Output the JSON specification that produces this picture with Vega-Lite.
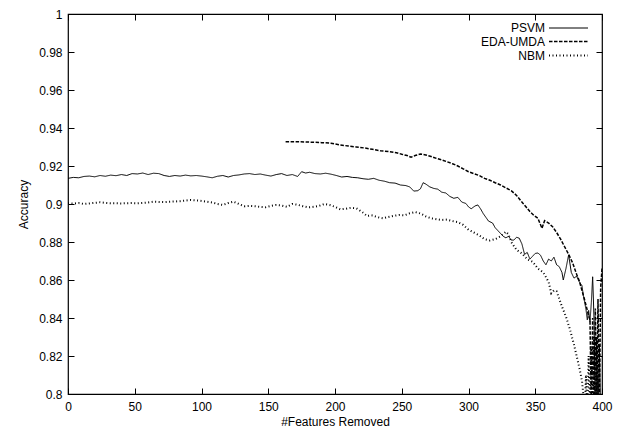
{
  "$schema": "https://vega.github.io/schema/vega-lite/v6.json",
  "width": 534,
  "height": 380,
  "autosize": "none",
  "padding": {"left": 68, "top": 14, "right": 22, "bottom": 36},
  "background": "white",
  "config": {
    "font": "Liberation Sans",
    "view": {"stroke": "black", "strokeWidth": 1.2},
    "axis": {"domain": false, "grid": false, "tickColor": "black", "tickWidth": 1, "labelColor": "black", "titleColor": "black", "labelFont": "Liberation Sans", "titleFont": "Liberation Sans", "labelFontSize": 12, "titleFontSize": 12, "titleFontWeight": "normal"}
  },
  "data": {
    "values": [
      {"s": "PSVM", "x": 0, "y": 0.9135}, {"s": "PSVM", "x": 4, "y": 0.914}, {"s": "PSVM", "x": 8, "y": 0.9138}, {"s": "PSVM", "x": 12, "y": 0.9145}, {"s": "PSVM", "x": 16, "y": 0.9147}, {"s": "PSVM", "x": 20, "y": 0.9143}, {"s": "PSVM", "x": 24, "y": 0.915}, {"s": "PSVM", "x": 28, "y": 0.9146}, {"s": "PSVM", "x": 32, "y": 0.9152}, {"s": "PSVM", "x": 36, "y": 0.9149}, {"s": "PSVM", "x": 40, "y": 0.9155}, {"s": "PSVM", "x": 44, "y": 0.915}, {"s": "PSVM", "x": 48, "y": 0.916}, {"s": "PSVM", "x": 52, "y": 0.9158}, {"s": "PSVM", "x": 56, "y": 0.9163}, {"s": "PSVM", "x": 60, "y": 0.9155}, {"s": "PSVM", "x": 64, "y": 0.9162}, {"s": "PSVM", "x": 68, "y": 0.916}, {"s": "PSVM", "x": 72, "y": 0.915}, {"s": "PSVM", "x": 76, "y": 0.9145}, {"s": "PSVM", "x": 80, "y": 0.915}, {"s": "PSVM", "x": 84, "y": 0.9147}, {"s": "PSVM", "x": 88, "y": 0.9152}, {"s": "PSVM", "x": 92, "y": 0.9148}, {"s": "PSVM", "x": 96, "y": 0.915}, {"s": "PSVM", "x": 100, "y": 0.9147}, {"s": "PSVM", "x": 104, "y": 0.9143}, {"s": "PSVM", "x": 108, "y": 0.9138}, {"s": "PSVM", "x": 112, "y": 0.9146}, {"s": "PSVM", "x": 116, "y": 0.915}, {"s": "PSVM", "x": 120, "y": 0.9142}, {"s": "PSVM", "x": 124, "y": 0.915}, {"s": "PSVM", "x": 128, "y": 0.9153}, {"s": "PSVM", "x": 132, "y": 0.9158}, {"s": "PSVM", "x": 136, "y": 0.916}, {"s": "PSVM", "x": 140, "y": 0.9155}, {"s": "PSVM", "x": 144, "y": 0.9158}, {"s": "PSVM", "x": 148, "y": 0.9152}, {"s": "PSVM", "x": 152, "y": 0.9147}, {"s": "PSVM", "x": 156, "y": 0.9155}, {"s": "PSVM", "x": 160, "y": 0.916}, {"s": "PSVM", "x": 164, "y": 0.915}, {"s": "PSVM", "x": 168, "y": 0.9155}, {"s": "PSVM", "x": 172, "y": 0.9145}, {"s": "PSVM", "x": 175, "y": 0.917}, {"s": "PSVM", "x": 178, "y": 0.9163}, {"s": "PSVM", "x": 181, "y": 0.9167}, {"s": "PSVM", "x": 185, "y": 0.916}, {"s": "PSVM", "x": 189, "y": 0.9158}, {"s": "PSVM", "x": 193, "y": 0.9162}, {"s": "PSVM", "x": 197, "y": 0.9157}, {"s": "PSVM", "x": 201, "y": 0.915}, {"s": "PSVM", "x": 205, "y": 0.9142}, {"s": "PSVM", "x": 209, "y": 0.9145}, {"s": "PSVM", "x": 213, "y": 0.914}, {"s": "PSVM", "x": 217, "y": 0.9138}, {"s": "PSVM", "x": 221, "y": 0.9133}, {"s": "PSVM", "x": 225, "y": 0.913}, {"s": "PSVM", "x": 229, "y": 0.9135}, {"s": "PSVM", "x": 233, "y": 0.9125}, {"s": "PSVM", "x": 237, "y": 0.912}, {"s": "PSVM", "x": 241, "y": 0.9112}, {"s": "PSVM", "x": 245, "y": 0.911}, {"s": "PSVM", "x": 249, "y": 0.91}, {"s": "PSVM", "x": 253, "y": 0.9097}, {"s": "PSVM", "x": 256, "y": 0.909}, {"s": "PSVM", "x": 259, "y": 0.9068}, {"s": "PSVM", "x": 262, "y": 0.907}, {"s": "PSVM", "x": 264, "y": 0.908}, {"s": "PSVM", "x": 266, "y": 0.9112}, {"s": "PSVM", "x": 268, "y": 0.9105}, {"s": "PSVM", "x": 271, "y": 0.909}, {"s": "PSVM", "x": 274, "y": 0.9082}, {"s": "PSVM", "x": 277, "y": 0.9078}, {"s": "PSVM", "x": 280, "y": 0.9062}, {"s": "PSVM", "x": 283, "y": 0.9058}, {"s": "PSVM", "x": 286, "y": 0.904}, {"s": "PSVM", "x": 289, "y": 0.903}, {"s": "PSVM", "x": 292, "y": 0.9035}, {"s": "PSVM", "x": 295, "y": 0.901}, {"s": "PSVM", "x": 298, "y": 0.9003}, {"s": "PSVM", "x": 300, "y": 0.8985}, {"s": "PSVM", "x": 302, "y": 0.8975}, {"s": "PSVM", "x": 305, "y": 0.899}, {"s": "PSVM", "x": 307, "y": 0.8995}, {"s": "PSVM", "x": 309, "y": 0.8975}, {"s": "PSVM", "x": 311, "y": 0.895}, {"s": "PSVM", "x": 313, "y": 0.893}, {"s": "PSVM", "x": 315, "y": 0.891}, {"s": "PSVM", "x": 318, "y": 0.89}, {"s": "PSVM", "x": 320, "y": 0.8875}, {"s": "PSVM", "x": 322, "y": 0.886}, {"s": "PSVM", "x": 324, "y": 0.8845}, {"s": "PSVM", "x": 326, "y": 0.883}, {"s": "PSVM", "x": 328, "y": 0.8822}, {"s": "PSVM", "x": 330, "y": 0.883}, {"s": "PSVM", "x": 332, "y": 0.881}, {"s": "PSVM", "x": 334, "y": 0.881}, {"s": "PSVM", "x": 336, "y": 0.8825}, {"s": "PSVM", "x": 338, "y": 0.882}, {"s": "PSVM", "x": 340, "y": 0.879}, {"s": "PSVM", "x": 342, "y": 0.8735}, {"s": "PSVM", "x": 344, "y": 0.8745}, {"s": "PSVM", "x": 346, "y": 0.871}, {"s": "PSVM", "x": 348, "y": 0.8725}, {"s": "PSVM", "x": 350, "y": 0.874}, {"s": "PSVM", "x": 352, "y": 0.8742}, {"s": "PSVM", "x": 354, "y": 0.873}, {"s": "PSVM", "x": 356, "y": 0.87}, {"s": "PSVM", "x": 358, "y": 0.868}, {"s": "PSVM", "x": 360, "y": 0.871}, {"s": "PSVM", "x": 362, "y": 0.87}, {"s": "PSVM", "x": 364, "y": 0.872}, {"s": "PSVM", "x": 366, "y": 0.868}, {"s": "PSVM", "x": 368, "y": 0.867}, {"s": "PSVM", "x": 370, "y": 0.864}, {"s": "PSVM", "x": 371, "y": 0.86}, {"s": "PSVM", "x": 373, "y": 0.866}, {"s": "PSVM", "x": 375, "y": 0.8732}, {"s": "PSVM", "x": 377, "y": 0.864}, {"s": "PSVM", "x": 379, "y": 0.861}, {"s": "PSVM", "x": 381, "y": 0.862}, {"s": "PSVM", "x": 383, "y": 0.859}, {"s": "PSVM", "x": 385, "y": 0.857}, {"s": "PSVM", "x": 386, "y": 0.852}, {"s": "PSVM", "x": 388, "y": 0.8445}, {"s": "PSVM", "x": 389, "y": 0.839}, {"s": "PSVM", "x": 390, "y": 0.844}, {"s": "PSVM", "x": 391, "y": 0.838}, {"s": "PSVM", "x": 392, "y": 0.848}, {"s": "PSVM", "x": 393, "y": 0.8617}, {"s": "PSVM", "x": 394, "y": 0.84}, {"s": "PSVM", "x": 395, "y": 0.79}, {"s": "PSVM", "x": 396, "y": 0.83}, {"s": "PSVM", "x": 397, "y": 0.79}, {"s": "PSVM", "x": 398, "y": 0.825}, {"s": "PSVM", "x": 399, "y": 0.79}, {"s": "PSVM", "x": 400, "y": 0.8},
      {"s": "EDA-UMDA", "x": 163, "y": 0.9328}, {"s": "EDA-UMDA", "x": 170, "y": 0.9328}, {"s": "EDA-UMDA", "x": 180, "y": 0.9326}, {"s": "EDA-UMDA", "x": 190, "y": 0.9323}, {"s": "EDA-UMDA", "x": 197, "y": 0.932}, {"s": "EDA-UMDA", "x": 204, "y": 0.9311}, {"s": "EDA-UMDA", "x": 210, "y": 0.9305}, {"s": "EDA-UMDA", "x": 216, "y": 0.93}, {"s": "EDA-UMDA", "x": 222, "y": 0.9295}, {"s": "EDA-UMDA", "x": 228, "y": 0.9288}, {"s": "EDA-UMDA", "x": 234, "y": 0.928}, {"s": "EDA-UMDA", "x": 240, "y": 0.9276}, {"s": "EDA-UMDA", "x": 246, "y": 0.927}, {"s": "EDA-UMDA", "x": 250, "y": 0.9262}, {"s": "EDA-UMDA", "x": 254, "y": 0.9255}, {"s": "EDA-UMDA", "x": 257, "y": 0.9246}, {"s": "EDA-UMDA", "x": 260, "y": 0.9255}, {"s": "EDA-UMDA", "x": 264, "y": 0.9263}, {"s": "EDA-UMDA", "x": 268, "y": 0.9258}, {"s": "EDA-UMDA", "x": 272, "y": 0.925}, {"s": "EDA-UMDA", "x": 276, "y": 0.924}, {"s": "EDA-UMDA", "x": 280, "y": 0.9232}, {"s": "EDA-UMDA", "x": 284, "y": 0.9222}, {"s": "EDA-UMDA", "x": 288, "y": 0.9212}, {"s": "EDA-UMDA", "x": 292, "y": 0.92}, {"s": "EDA-UMDA", "x": 296, "y": 0.9185}, {"s": "EDA-UMDA", "x": 300, "y": 0.917}, {"s": "EDA-UMDA", "x": 304, "y": 0.916}, {"s": "EDA-UMDA", "x": 308, "y": 0.915}, {"s": "EDA-UMDA", "x": 312, "y": 0.9135}, {"s": "EDA-UMDA", "x": 316, "y": 0.9125}, {"s": "EDA-UMDA", "x": 320, "y": 0.9112}, {"s": "EDA-UMDA", "x": 324, "y": 0.91}, {"s": "EDA-UMDA", "x": 328, "y": 0.9085}, {"s": "EDA-UMDA", "x": 332, "y": 0.907}, {"s": "EDA-UMDA", "x": 336, "y": 0.9045}, {"s": "EDA-UMDA", "x": 340, "y": 0.901}, {"s": "EDA-UMDA", "x": 343, "y": 0.8985}, {"s": "EDA-UMDA", "x": 346, "y": 0.896}, {"s": "EDA-UMDA", "x": 349, "y": 0.894}, {"s": "EDA-UMDA", "x": 352, "y": 0.8925}, {"s": "EDA-UMDA", "x": 355, "y": 0.8872}, {"s": "EDA-UMDA", "x": 357, "y": 0.8912}, {"s": "EDA-UMDA", "x": 360, "y": 0.89}, {"s": "EDA-UMDA", "x": 363, "y": 0.888}, {"s": "EDA-UMDA", "x": 366, "y": 0.885}, {"s": "EDA-UMDA", "x": 369, "y": 0.8815}, {"s": "EDA-UMDA", "x": 372, "y": 0.8775}, {"s": "EDA-UMDA", "x": 375, "y": 0.8735}, {"s": "EDA-UMDA", "x": 378, "y": 0.869}, {"s": "EDA-UMDA", "x": 381, "y": 0.863}, {"s": "EDA-UMDA", "x": 383, "y": 0.8595}, {"s": "EDA-UMDA", "x": 385, "y": 0.8545}, {"s": "EDA-UMDA", "x": 387, "y": 0.8495}, {"s": "EDA-UMDA", "x": 389, "y": 0.844}, {"s": "EDA-UMDA", "x": 390, "y": 0.841}, {"s": "EDA-UMDA", "x": 391, "y": 0.839}, {"s": "EDA-UMDA", "x": 392, "y": 0.79}, {"s": "EDA-UMDA", "x": 393, "y": 0.84}, {"s": "EDA-UMDA", "x": 394, "y": 0.79}, {"s": "EDA-UMDA", "x": 395, "y": 0.845}, {"s": "EDA-UMDA", "x": 396, "y": 0.79}, {"s": "EDA-UMDA", "x": 397, "y": 0.85}, {"s": "EDA-UMDA", "x": 398, "y": 0.79}, {"s": "EDA-UMDA", "x": 399, "y": 0.856}, {"s": "EDA-UMDA", "x": 400, "y": 0.866},
      {"s": "NBM", "x": 0, "y": 0.9004}, {"s": "NBM", "x": 4, "y": 0.9002}, {"s": "NBM", "x": 8, "y": 0.9005}, {"s": "NBM", "x": 12, "y": 0.9}, {"s": "NBM", "x": 16, "y": 0.9003}, {"s": "NBM", "x": 20, "y": 0.9006}, {"s": "NBM", "x": 24, "y": 0.9009}, {"s": "NBM", "x": 28, "y": 0.9006}, {"s": "NBM", "x": 32, "y": 0.9004}, {"s": "NBM", "x": 36, "y": 0.9004}, {"s": "NBM", "x": 40, "y": 0.9003}, {"s": "NBM", "x": 44, "y": 0.9004}, {"s": "NBM", "x": 48, "y": 0.9005}, {"s": "NBM", "x": 52, "y": 0.9004}, {"s": "NBM", "x": 56, "y": 0.9006}, {"s": "NBM", "x": 60, "y": 0.9008}, {"s": "NBM", "x": 64, "y": 0.9012}, {"s": "NBM", "x": 68, "y": 0.9011}, {"s": "NBM", "x": 72, "y": 0.901}, {"s": "NBM", "x": 76, "y": 0.9012}, {"s": "NBM", "x": 80, "y": 0.9013}, {"s": "NBM", "x": 84, "y": 0.9015}, {"s": "NBM", "x": 88, "y": 0.9018}, {"s": "NBM", "x": 92, "y": 0.9021}, {"s": "NBM", "x": 96, "y": 0.9019}, {"s": "NBM", "x": 100, "y": 0.9016}, {"s": "NBM", "x": 104, "y": 0.9012}, {"s": "NBM", "x": 108, "y": 0.9008}, {"s": "NBM", "x": 112, "y": 0.9}, {"s": "NBM", "x": 116, "y": 0.8995}, {"s": "NBM", "x": 120, "y": 0.9005}, {"s": "NBM", "x": 124, "y": 0.9012}, {"s": "NBM", "x": 128, "y": 0.9}, {"s": "NBM", "x": 132, "y": 0.8988}, {"s": "NBM", "x": 136, "y": 0.899}, {"s": "NBM", "x": 140, "y": 0.8988}, {"s": "NBM", "x": 144, "y": 0.8985}, {"s": "NBM", "x": 148, "y": 0.8983}, {"s": "NBM", "x": 152, "y": 0.899}, {"s": "NBM", "x": 156, "y": 0.8995}, {"s": "NBM", "x": 160, "y": 0.8992}, {"s": "NBM", "x": 164, "y": 0.8985}, {"s": "NBM", "x": 168, "y": 0.9}, {"s": "NBM", "x": 172, "y": 0.8996}, {"s": "NBM", "x": 176, "y": 0.8988}, {"s": "NBM", "x": 180, "y": 0.8982}, {"s": "NBM", "x": 184, "y": 0.8985}, {"s": "NBM", "x": 188, "y": 0.899}, {"s": "NBM", "x": 192, "y": 0.9}, {"s": "NBM", "x": 196, "y": 0.8995}, {"s": "NBM", "x": 200, "y": 0.8985}, {"s": "NBM", "x": 204, "y": 0.8972}, {"s": "NBM", "x": 208, "y": 0.8975}, {"s": "NBM", "x": 212, "y": 0.898}, {"s": "NBM", "x": 216, "y": 0.8977}, {"s": "NBM", "x": 220, "y": 0.896}, {"s": "NBM", "x": 224, "y": 0.8937}, {"s": "NBM", "x": 228, "y": 0.894}, {"s": "NBM", "x": 232, "y": 0.893}, {"s": "NBM", "x": 236, "y": 0.8925}, {"s": "NBM", "x": 240, "y": 0.8932}, {"s": "NBM", "x": 244, "y": 0.8938}, {"s": "NBM", "x": 248, "y": 0.8942}, {"s": "NBM", "x": 252, "y": 0.894}, {"s": "NBM", "x": 256, "y": 0.8951}, {"s": "NBM", "x": 260, "y": 0.8958}, {"s": "NBM", "x": 264, "y": 0.895}, {"s": "NBM", "x": 268, "y": 0.8935}, {"s": "NBM", "x": 272, "y": 0.8925}, {"s": "NBM", "x": 276, "y": 0.892}, {"s": "NBM", "x": 280, "y": 0.8916}, {"s": "NBM", "x": 284, "y": 0.8918}, {"s": "NBM", "x": 288, "y": 0.891}, {"s": "NBM", "x": 292, "y": 0.8905}, {"s": "NBM", "x": 296, "y": 0.889}, {"s": "NBM", "x": 300, "y": 0.8865}, {"s": "NBM", "x": 304, "y": 0.885}, {"s": "NBM", "x": 308, "y": 0.8835}, {"s": "NBM", "x": 312, "y": 0.8815}, {"s": "NBM", "x": 316, "y": 0.8808}, {"s": "NBM", "x": 320, "y": 0.8815}, {"s": "NBM", "x": 324, "y": 0.883}, {"s": "NBM", "x": 328, "y": 0.8854}, {"s": "NBM", "x": 330, "y": 0.884}, {"s": "NBM", "x": 332, "y": 0.88}, {"s": "NBM", "x": 336, "y": 0.8758}, {"s": "NBM", "x": 340, "y": 0.874}, {"s": "NBM", "x": 344, "y": 0.8709}, {"s": "NBM", "x": 348, "y": 0.8696}, {"s": "NBM", "x": 352, "y": 0.866}, {"s": "NBM", "x": 356, "y": 0.864}, {"s": "NBM", "x": 360, "y": 0.859}, {"s": "NBM", "x": 362, "y": 0.853}, {"s": "NBM", "x": 364, "y": 0.8545}, {"s": "NBM", "x": 366, "y": 0.854}, {"s": "NBM", "x": 368, "y": 0.85}, {"s": "NBM", "x": 370, "y": 0.846}, {"s": "NBM", "x": 373, "y": 0.8407}, {"s": "NBM", "x": 376, "y": 0.834}, {"s": "NBM", "x": 379, "y": 0.826}, {"s": "NBM", "x": 381, "y": 0.82}, {"s": "NBM", "x": 383, "y": 0.814}, {"s": "NBM", "x": 385, "y": 0.807}, {"s": "NBM", "x": 386, "y": 0.8}, {"s": "NBM", "x": 387, "y": 0.79}, {"s": "NBM", "x": 388, "y": 0.81}, {"s": "NBM", "x": 389, "y": 0.79}, {"s": "NBM", "x": 390, "y": 0.82}, {"s": "NBM", "x": 391, "y": 0.79}, {"s": "NBM", "x": 392, "y": 0.825}, {"s": "NBM", "x": 393, "y": 0.79}, {"s": "NBM", "x": 394, "y": 0.83}, {"s": "NBM", "x": 395, "y": 0.79}, {"s": "NBM", "x": 396, "y": 0.825}, {"s": "NBM", "x": 397, "y": 0.79}
    ]
  },
  "layer": [
    {
      "mark": {"type": "line", "clip": true, "color": "black", "strokeCap": "butt", "strokeJoin": "miter"},
      "encoding": {
        "x": {"field": "x", "type": "quantitative", "scale": {"domain": [0, 400], "nice": false, "zero": false},
          "axis": {"orient": "bottom", "values": [0, 50, 100, 150, 200, 250, 300, 350, 400], "format": "d", "tickSize": -6, "labelPadding": 13, "title": "#Features Removed", "titlePadding": 4, "labelFlush": false}},
        "y": {"field": "y", "type": "quantitative", "scale": {"domain": [0.8, 1], "nice": false, "zero": false},
          "axis": {"orient": "left", "values": [0.8, 0.82, 0.84, 0.86, 0.88, 0.9, 0.92, 0.94, 0.96, 0.98, 1], "format": "~g", "tickSize": -6, "labelPadding": 12, "title": "Accuracy", "titlePadding": 8, "labelFlush": false}},
        "strokeDash": {"field": "s", "type": "nominal", "scale": {"domain": ["PSVM", "EDA-UMDA", "NBM"], "range": [[1, 0], [3.5, 1.5], [1, 2.5]]},
          "legend": {"orient": "none", "legendX": 493, "legendY": 7, "title": null, "symbolType": "M-3,0H3", "symbolSize": 169, "symbolStrokeColor": "black", "symbolFillColor": "transparent", "labelAlign": "right", "labelOffset": -31, "labelFontSize": 12, "labelFont": "Liberation Sans", "labelColor": "black", "rowPadding": -3.5, "labelLimit": 200}},
        "strokeWidth": {"field": "s", "type": "nominal", "scale": {"domain": ["PSVM", "EDA-UMDA", "NBM"], "range": [1, 2, 1]},
          "legend": {"orient": "none", "legendX": 493, "legendY": 7, "title": null, "symbolType": "M-3,0H3", "symbolSize": 169, "symbolStrokeColor": "black", "symbolFillColor": "transparent", "labelAlign": "right", "labelOffset": -31, "labelFontSize": 12, "labelFont": "Liberation Sans", "labelColor": "black", "rowPadding": -3.5, "labelLimit": 200}}
      }
    },
    {
      "mark": {"type": "rule", "opacity": 0},
      "encoding": {
        "x": {"field": "x", "type": "quantitative", "scale": {"domain": [0, 400], "nice": false, "zero": false},
          "axis": {"orient": "top", "values": [0, 50, 100, 150, 200, 250, 300, 350, 400], "tickSize": -6, "labels": false, "title": null}},
        "y": {"field": "y", "type": "quantitative", "scale": {"domain": [0.8, 1], "nice": false, "zero": false},
          "axis": {"orient": "right", "values": [0.8, 0.82, 0.84, 0.86, 0.88, 0.9, 0.92, 0.94, 0.96, 0.98, 1], "tickSize": -6, "labels": false, "title": null}}
      }
    }
  ],
  "resolve": {"scale": {"x": "independent", "y": "independent"}, "axis": {"x": "independent", "y": "independent"}}
}
